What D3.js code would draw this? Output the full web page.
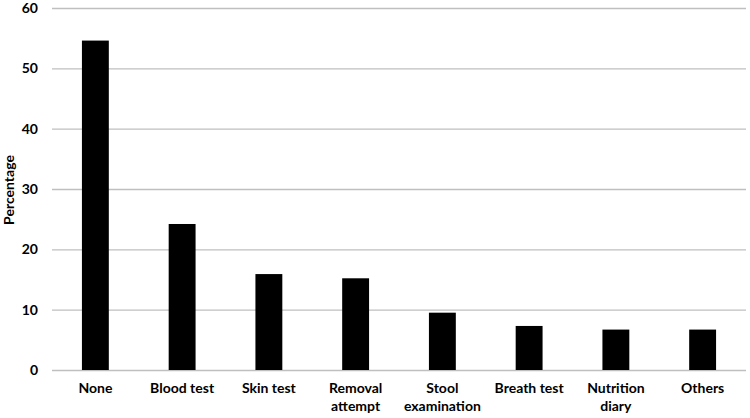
<!DOCTYPE html>
<html><head><meta charset="utf-8">
<script src="https://cdn.jsdelivr.net/npm/d3@7"></script>
<style>body{margin:0;background:#fff}svg{display:block}text{font-family:Lato,"Open Sans",sans-serif}</style>
</head><body><div id="chart"></div>
<script>
const categories = ["None","Blood test","Skin test","Removal attempt","Stool examination","Breath test","Nutrition diary","Others"];
const labelLines = [["None"],["Blood test"],["Skin test"],["Removal","attempt"],["Stool","examination"],["Breath test"],["Nutrition","diary"],["Others"]];
const values = [54.6,24.2,15.9,15.2,9.5,7.3,6.7,6.7];
const yTicks = [0,10,20,30,40,50,60];

const W=750,H=418;
const svg=d3.select("#chart").append("svg").attr("width",W).attr("height",H);
const x=d3.scaleBand().domain(categories).range([52,746]).paddingInner(0.69).paddingOuter(0.345);
const y=d3.scaleLinear().domain([0,60]).range([370,8]);

const yAxis=svg.append("g").attr("transform","translate(52,0)")
  .call(d3.axisLeft(y).tickValues(yTicks).tickSize(-(746-52)).tickPadding(14));
yAxis.select(".domain").remove();
yAxis.selectAll(".tick line").attr("stroke","#bfbfbf").attr("stroke-width",1.3);
yAxis.selectAll(".tick text").attr("font-size",14).attr("font-weight",700).attr("fill","#000");

svg.append("g").selectAll("rect").data(values).join("rect")
  .attr("x",(d,i)=>x(categories[i])).attr("width",x.bandwidth())
  .attr("y",d=>y(d)).attr("height",d=>y(0)-y(d)).attr("fill","#000");

const xl=svg.append("g");
labelLines.forEach((lines,i)=>{
  const t=xl.append("text").attr("x",x(categories[i])+x.bandwidth()/2).attr("y",393)
    .attr("text-anchor","middle").attr("font-size",14).attr("font-weight",700).attr("fill","#000");
  lines.forEach((l,j)=>t.append("tspan").attr("x",x(categories[i])+x.bandwidth()/2).attr("dy",j?17.5:0).text(l));
});

svg.append("text").attr("transform","translate(14,190) rotate(-90)").attr("text-anchor","middle")
  .attr("font-size",14).attr("font-weight",700).attr("fill","#000").text("Percentage");
</script></body></html>
